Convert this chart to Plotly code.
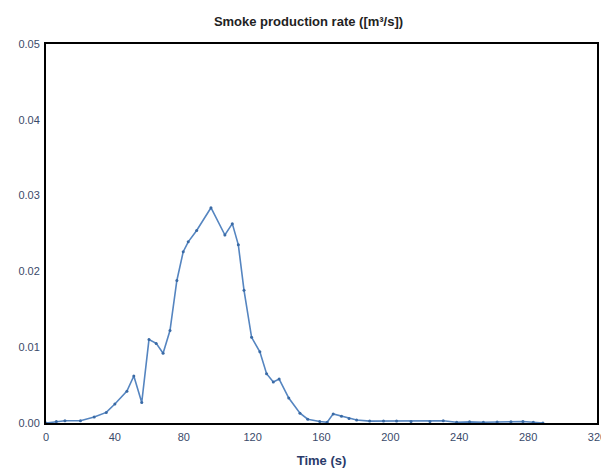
import plotly.graph_objects as go

time_s = [0, 6, 11, 20, 28, 35, 40, 47, 51, 55.6, 59.8, 64, 68, 72, 76, 79.7, 82.6, 87.5, 95.8,
          103.9, 108.2, 111.7, 115, 119.4, 124.2, 128.1, 132, 135.4, 141, 147.5, 152, 159,
          163.3, 166.8, 171.6, 176, 180.4, 188, 196, 203.6, 212, 223, 230.7, 238.5, 246, 254,
          262, 270, 277, 283, 288.6]
smoke = [0.0, 0.0002, 0.0003, 0.0003, 0.0008, 0.0014, 0.0025, 0.0042, 0.0062, 0.0027, 0.011,
         0.0105, 0.0092, 0.0122, 0.0188, 0.0226, 0.0239, 0.0254, 0.0284,
         0.0248, 0.0263, 0.0235, 0.0175, 0.0113, 0.0094, 0.0065, 0.0054, 0.0058, 0.0033, 0.0013,
         0.0005, 0.0002, 0.0001, 0.0012, 0.0009, 0.0006, 0.0004, 0.00025, 0.00025, 0.00025,
         0.0002, 0.0002, 0.0003, 0.0001, 0.00015, 0.0001, 0.00012, 0.00015, 0.0002, 0.0001, 0.0]

x_ticks = [0, 40, 80, 120, 160, 200, 240, 280, 320]
y_ticks = [0.00, 0.01, 0.02, 0.03, 0.04, 0.05]

fig = go.Figure()
fig.add_trace(go.Scatter(
    x=time_s, y=smoke, mode="lines+markers",
    line=dict(color="#5585c0", width=1.6),
    marker=dict(size=3, color="#3a6aa5"),
    showlegend=False,
))

# page body has an 8px default margin; figure sized to fit the 609x470 window
fig.update_layout(
    width=601, height=462,
    margin=dict(l=38, r=12, t=36, b=47, autoexpand=False),
    paper_bgcolor="white", plot_bgcolor="white",
    title=dict(text="<b>Smoke production rate ([m³/s])</b>", x=0.5, xanchor="center",
               y=0.970, yanchor="middle",
               font=dict(family="Liberation Sans, Arial", size=13, color="#222222")),
    font=dict(family="Liberation Sans, Arial", size=11, color="#3a4a6a"),
)
fig.update_xaxes(
    range=[0, 320], tickvals=x_ticks, ticktext=[str(v) for v in x_ticks],
    showgrid=False, zeroline=False, showline=True, linecolor="black", linewidth=2,
    mirror=True, ticks="", ticklen=0, automargin=False, ticklabelstandoff=3,
    title=dict(text="<b>Time (s)</b>", standoff=14,
               font=dict(family="Liberation Sans, Arial", size=13, color="#2a3a6a")),
)
fig.update_yaxes(
    range=[0, 0.05], tickvals=y_ticks, ticktext=[f"{v:.2f}" for v in y_ticks],
    showgrid=False, zeroline=False, showline=True, linecolor="black", linewidth=2,
    mirror=True, ticks="", ticklen=0, automargin=False, ticklabelstandoff=2,
)

fig.write_html("out.html")
